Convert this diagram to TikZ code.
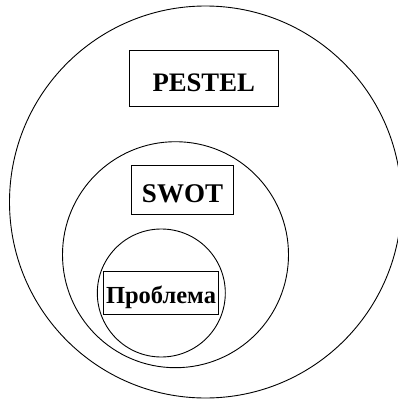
\documentclass[tikz,border=0pt]{standalone}
\usepackage{fontspec}
\setmainfont{Liberation Serif}
\begin{document}
\begin{tikzpicture}[x=1pt,y=-1pt,
  ring/.style={draw, circle, line width=0.9pt, inner sep=0pt},
  labelbox/.style={draw, rectangle, line width=1pt, inner sep=0pt, font=\bfseries, text depth=0pt}]
\useasboundingbox (0,0) rectangle (397,401);
\node[ring, minimum size=392pt] (outer) at (205.5,202) {};
\node[ring, minimum size=226pt] (middle) at (175.5,254.7) {};
\node[ring, minimum size=128pt] (inner) at (161.3,293) {};
\node[labelbox, minimum width=148.7pt, minimum height=56.4pt, text height=27pt, font=\fontsize{26.7}{30}\bfseries\selectfont] (pestel) at (203.7,78.5) {PESTEL};
\node[labelbox, minimum width=101.6pt, minimum height=49.3pt, text height=26pt, font=\fontsize{27}{30}\bfseries\selectfont] (swot) at (182.5,189.7) {SWOT};
\node[labelbox, minimum width=115.4pt, minimum height=43pt, text height=22pt, font=\fontsize{24.5}{28}\bfseries\selectfont] (problem) at (161,292.5) {Проблема};
\end{tikzpicture}
\end{document}
